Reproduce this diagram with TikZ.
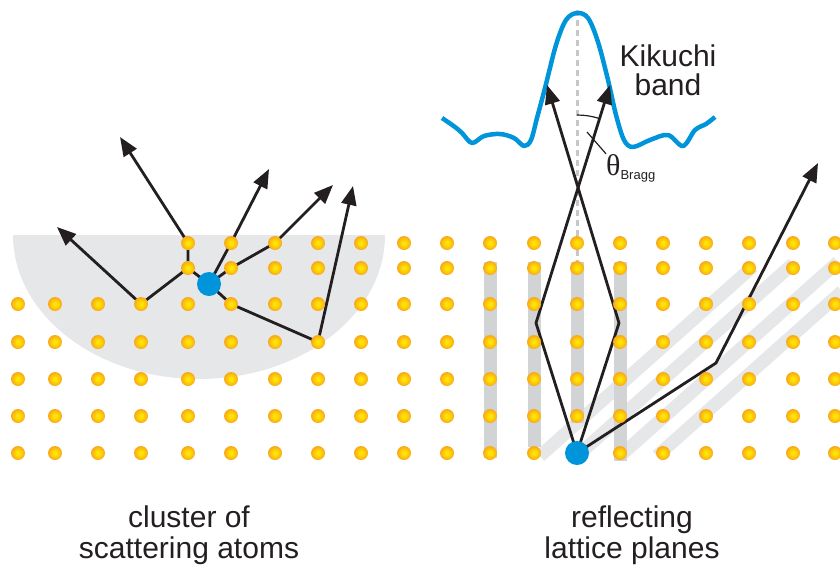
\documentclass[tikz,border=0pt]{standalone}
\usepackage{fontspec}
\setmainfont{Liberation Sans}
\newfontfamily\greekfont{Liberation Serif}
\usetikzlibrary{arrows.meta,backgrounds}
\definecolor{ink}{RGB}{35,31,32}
\definecolor{kblue}{RGB}{0,149,218}
\definecolor{pale}{RGB}{230,231,232}
\definecolor{plane}{RGB}{209,211,212}
\definecolor{gold}{RGB}{255,228,0}
\definecolor{amber}{RGB}{248,170,26}
\pgfdeclareradialshading{atomglow}{\pgfpoint{0bp}{0bp}}{color(0bp)=(gold); color(6bp)=(gold); color(24bp)=(amber); color(50bp)=(amber)}

\begin{document}
\begin{tikzpicture}[x=1pt, y=-1pt,
  atom/.style={circle, inner sep=0pt, minimum size=14pt, shading=atomglow},
  hit/.style={circle, fill=kblue, inner sep=0pt, minimum size=24pt},
  ray/.style={draw=ink, line width=2.8pt, -{Triangle[length=19pt,width=15pt]}},
  leg/.style={draw=ink, line width=2.8pt},
  txt/.style={font=\fontsize{30}{31}\selectfont, text=ink, align=center}]
\useasboundingbox (0,0) rectangle (840,565);
% lattice
\foreach \x [count=\i] in {18,55,98,141}
  \foreach \y [count=\j from 3] in {304,342,379,416,453}
    \node[atom] (a\i-\j) at (\x,\y) {};
\foreach \x [count=\i from 5] in {188,231,275,318,361,404,447,490,534,577,620,663,706,749,793,835}
  \foreach \y [count=\j] in {243,268,304,342,379,416,453}
    \node[atom] (a\i-\j) at (\x,\y) {};
\node[hit] (emit) at (209,284) {};
\node[hit] (src) at (a14-7) {};
% free ends of the rays
\coordinate (u1) at (57,227);
\coordinate (u2) at (120,137);
\coordinate (u3) at (269,169);
\coordinate (u4) at (333,185);
\coordinate (u5) at (353,186);
\coordinate (kl) at (536,323);
\coordinate (kr) at (619,323);
\coordinate (kd) at (716,363);
\coordinate (tl) at (547,85);
\coordinate (tr) at (610,85);
\coordinate (td) at (818,163);
\begin{scope}[on background layer]
  \fill[pale] (13,235) arc[start angle=180, end angle=360,
    x radius=186pt, y radius=144pt] -- cycle;
  \foreach \a/\b in {540/753, 577/793, 620/838, 657/842}
    \draw[pale, line width=13pt] (\a,456) -- ++(\b-\a,-0.89*\b+0.89*\a);
  \foreach \x/\e in {490/458, 534/447, 577/423, 620/461}
    \draw[plane, line width=13pt] (\x,262) -- (\x,\e);
  \draw[black!22, line width=3pt, dash pattern=on 6pt off 4pt] (577,10) -- (577,262);
  \draw[kblue, line width=4.5pt, line join=round] plot[smooth, tension=0.55] coordinates {
    (442,118) (455,127) (462,133) (472,143) (484,136) (500,134) (514,138)
    (524,146) (531,140) (537,118) (545,88) (556,45) (566,20) (577,13)
    (588,18) (598,42) (608,80) (616,115) (624,140) (633,147) (650,140)
    (668,135) (683,146) (695,130) (706,124) (715,117)};
  \draw[ray] (a4-3.center) -- (u1);
  \draw[ray] (a4-3.center) -- (a5-2.center) -- (a5-1.center) -- (u2);
  \draw[leg] (a5-2.center) -- (emit.center);
  \draw[ray] (emit.center) -- (a6-1.center) -- (u3);
  \draw[ray] (emit.center) -- (a6-2.center) -- (a7-1.center) -- (u4);
  \draw[ray] (emit.center) -- (a6-3.center) -- (a8-4.center) -- (u5);
  \draw[ray] (src.center) -- (kl) -- (tr);
  \draw[ray] (src.center) -- (kr) -- (tl);
  \draw[ray] (src.center) -- (kd) -- (td);
  \draw[ink, line width=1.2pt] (577,115) arc[start angle=90, end angle=72, radius=73pt];
\end{scope}
\node[anchor=base west, inner sep=0pt, text=ink] (bragg) at (606,175)
  {{\greekfont\fontsize{30}{30}\selectfont θ}\raisebox{-4.5pt}{\fontsize{13}{13}\selectfont Bragg}};
\coordinate (lead) at (587,132);
\draw[ink, line width=1.2pt] (lead) -- (bragg.north west);
\node[txt, font=\fontsize{30}{29}\selectfont, anchor=base] (kik) at (668,95) {Kikuchi\\band};
\node[txt, anchor=base] (cluster) at (189,558) {cluster of\\scattering atoms};
\node[txt, anchor=base] (planes) at (632,558) {reflecting\\lattice planes};
\end{tikzpicture}
\end{document}
